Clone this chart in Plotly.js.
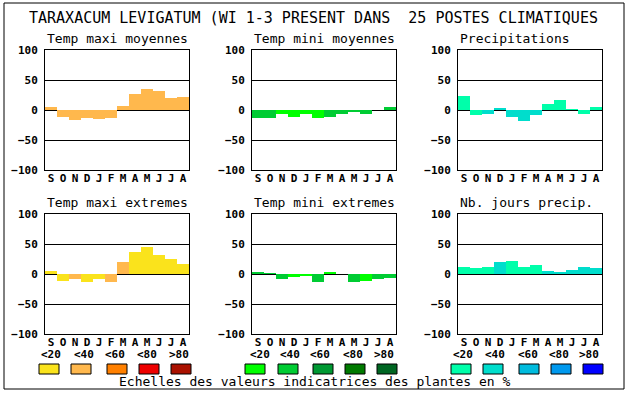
<!DOCTYPE html>
<html>
<head>
<meta charset="utf-8">
<script src="https://cdn.plot.ly/plotly-3.0.1.min.js"></script>
<style>html,body{margin:0;padding:0;background:#fff;}#chart{width:630px;height:394px;}</style>
</head>
<body>
<div id="chart"></div>
<script>
// ---- data ----
var months = ['S','O','N','D','J','F','M','A','M','J','J','A'];
var chartTitle = 'TARAXACUM LEVIGATUM (WI 1-3 PRESENT DANS \u00A025 POSTES CLIMATIQUES';
var caption = 'Echelles des valeurs indicatrices des plantes en %';
var classLabels = ['<20','<40','<60','<80','>80'];
var yTicks = [-100, -50, 0, 50, 100];

var warmPalette  = ['#FAE31C','#FFB84D','#FF8000','#EE0000','#AA1100'];
var greenPalette = ['#00FF00','#00CC33','#009933','#007A00','#006622'];
var bluePalette  = ['#00FFAA','#00DDCC','#00BBDD','#0099EE','#0000FF'];

var subTitles = ['Temp maxi moyennes','Temp mini moyennes','Precipitations',
                 'Temp maxi extremes','Temp mini extremes','Nb. jours precip.'];

var tmaxMoy      = [5, -11, -16, -13, -15, -13, 7, 27, 35, 32, 20, 22];
var tmaxMoyClass = [1, 1, 1, 1, 1, 1, 1, 1, 1, 1, 1, 1];
var tminMoy      = [-13, -13, -6, -11, -6, -14, -11, -6, -4, -6, 0, 5];
var tminMoyClass = [1, 1, 0, 0, 0, 0, 1, 1, 1, 1, 1, 1];
var precip       = [24, -8, -6, 3, -11, -18, -8, 10, 17, 2, -6, 5];
var precipClass  = [0, 0, 1, 1, 1, 1, 1, 0, 0, 0, 0, 0];
var tmaxExt      = [5, -11, -8, -13, -8, -13, 20, 37, 45, 32, 25, 17];
var tmaxExtClass = [0, 0, 1, 0, 0, 1, 1, 0, 0, 0, 0, 0];
var tminExt      = [3, 2, -8, -5, -3, -13, 3, 0, -14, -11, -8, -6];
var tminExtClass = [1, 1, 1, 0, 0, 1, 0, 1, 1, 0, 1, 1];
var nbJours      = [12, 10, 12, 20, 22, 12, 15, 5, 3, 7, 12, 10];
var nbJoursClass = [0, 0, 0, 1, 0, 0, 0, 1, 1, 1, 1, 1];

// ---- layout helpers ----
var W = 630, H = 394;
function X(p){ return p / W; }
function Y(p){ return 1 - p / H; }

var series = [
  {v: tmaxMoy, c: tmaxMoyClass, pal: warmPalette},
  {v: tminMoy, c: tminMoyClass, pal: greenPalette},
  {v: precip,  c: precipClass,  pal: bluePalette},
  {v: tmaxExt, c: tmaxExtClass, pal: warmPalette},
  {v: tminExt, c: tminExtClass, pal: greenPalette},
  {v: nbJours, c: nbJoursClass, pal: bluePalette}
];
var colX = [[45, 189], [252, 396], [458, 602]];
var rowY = [[50, 170], [214, 334]];
var titleY = [38.5, 202];

var mono = 'DejaVu Sans Mono, Liberation Mono, monospace';
var data = [];
var layout = {
  width: W, height: H,
  margin: {l: 0, r: 0, t: 0, b: 0},
  paper_bgcolor: '#ffffff', plot_bgcolor: '#ffffff',
  showlegend: false, bargap: 0,
  annotations: [], shapes: []
};

series.forEach(function(s, i){
  var r = Math.floor(i / 3), c = i % 3;
  var n = i + 1;
  var xa = 'xaxis' + (n === 1 ? '' : n), ya = 'yaxis' + (n === 1 ? '' : n);
  data.push({
    type: 'bar',
    x: months.map(function(_, k){ return k; }),
    y: s.v,
    xaxis: 'x' + (n === 1 ? '' : n), yaxis: 'y' + (n === 1 ? '' : n),
    marker: {color: s.c.map(function(k){ return s.pal[k]; }), line: {width: 0}},
    hoverinfo: 'skip'
  });
  layout[xa] = {
    domain: [X(colX[c][0]), X(colX[c][1])],
    anchor: 'y' + (n === 1 ? '' : n),
    range: [-0.5, 11.5], fixedrange: true,
    tickmode: 'array', tickvals: months.map(function(_, k){ return k; }), ticktext: months,
    tickfont: {family: mono, size: 11, color: '#000', weight: 'bold'},
    showgrid: false, zeroline: false,
    showline: true, mirror: true, linecolor: '#000', linewidth: 1,
    ticks: '', ticklabelstandoff: -2
  };
  layout[ya] = {
    domain: [Y(rowY[r][1]), Y(rowY[r][0])],
    anchor: 'x' + (n === 1 ? '' : n),
    range: [-100, 100], fixedrange: true,
    tickmode: 'array', tickvals: yTicks,
    tickfont: {family: mono, size: 11, color: '#000', weight: 'bold'},
    showgrid: true, gridcolor: '#000', gridwidth: 1,
    zeroline: true, zerolinecolor: '#000', zerolinewidth: 1,
    showline: true, mirror: true, linecolor: '#000', linewidth: 1,
    ticks: '', ticklabelstandoff: 4, layer: 'above traces'
  };
  layout.annotations.push({
    xref: 'paper', yref: 'paper', x: X(colX[c][0]), y: Y(titleY[r]),
    xanchor: 'left', yanchor: 'middle', showarrow: false,
    text: subTitles[i], font: {family: mono, size: 13, color: '#000'}
  });
});

// main title
layout.annotations.push({
  xref: 'paper', yref: 'paper', x: X(313), y: Y(18), xanchor: 'center', yanchor: 'middle',
  showarrow: false, text: chartTitle, font: {family: mono, size: 15, color: '#000'}
});
// caption
layout.annotations.push({
  xref: 'paper', yref: 'paper', x: X(315), y: Y(381.5), xanchor: 'center', yanchor: 'middle',
  showarrow: false, text: caption, font: {family: mono, size: 13, color: '#000'}
});

// legend scales
var palettes = [warmPalette, greenPalette, bluePalette];
var boxX = [[39, 71, 107, 139, 171], [245, 278, 313, 345, 377], [451, 483, 519, 551, 583]];
var labX = [[39, 72, 103, 135, 167], [248, 278, 308, 341, 372], [451, 483, 516, 547, 577]];
palettes.forEach(function(pal, g){
  pal.forEach(function(col, k){
    layout.shapes.push({
      type: 'rect', xref: 'paper', yref: 'paper',
      x0: X(boxX[g][k]), x1: X(boxX[g][k] + 20), y0: Y(374), y1: Y(364),
      fillcolor: col, line: {color: '#000', width: 1}
    });
    layout.annotations.push({
      xref: 'paper', yref: 'paper', x: X(labX[g][k]), y: Y(354.5), xanchor: 'left', yanchor: 'middle',
      showarrow: false, text: classLabels[k].replace('<','&lt;').replace('>','&gt;'),
      font: {family: mono, size: 11, color: '#000', weight: 'bold'}
    });
  });
});

// outer border
layout.shapes.push({
  type: 'rect', xref: 'paper', yref: 'paper',
  x0: X(4), x1: X(624), y0: Y(389), y1: Y(3),
  line: {color: '#000', width: 1}, fillcolor: 'rgba(0,0,0,0)'
});

Plotly.newPlot('chart', data, layout, {staticPlot: true, displayModeBar: false});
</script>
</body>
</html>
